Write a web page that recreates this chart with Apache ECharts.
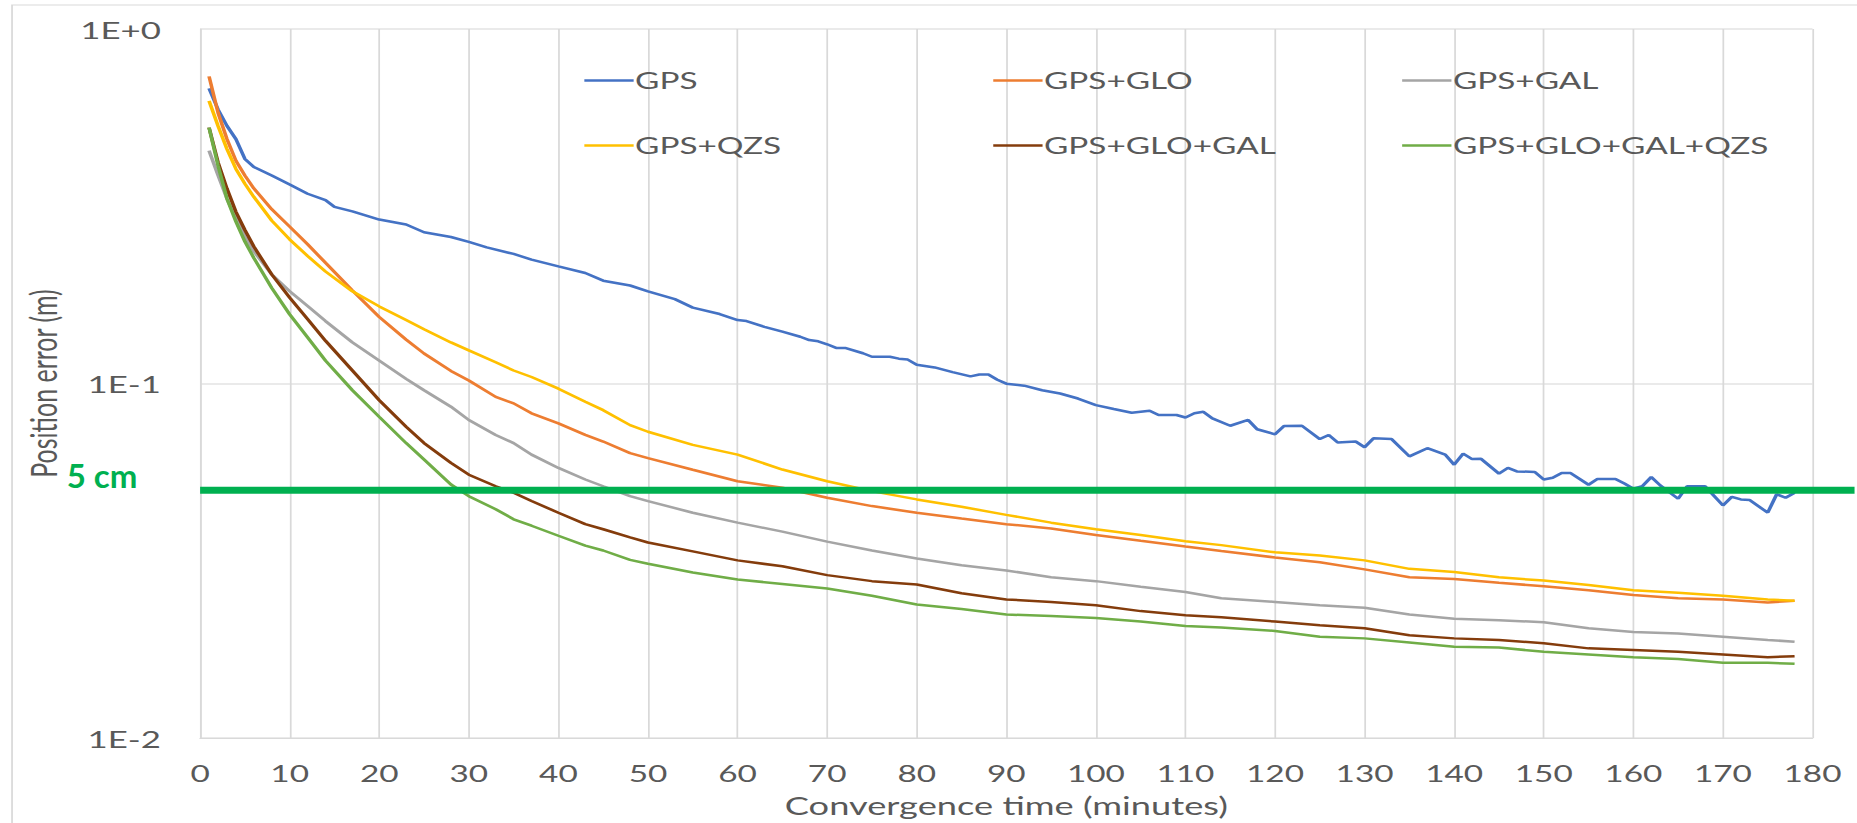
<!DOCTYPE html>
<html>
<head>
<meta charset="utf-8">
<title>Position error vs convergence time</title>
<script src="https://cdn.jsdelivr.net/npm/echarts@6/dist/echarts.min.js"></script>
<style>
  html, body { margin: 0; padding: 0; background: #fff; overflow: hidden; }
  /* the source figure is stretched sideways, so the whole chart is too */
  #chart { width: 1281px; height: 823px; transform: scaleX(1.45); transform-origin: 0 0; }
</style>
</head>
<body>
<div id="chart"></div>
<script>
// ---- data (position error in metres, time in minutes) ----
const gpsTimes = [1,2,3,4,5,6,8,10,12,14,15,17,20,23,25,28,30,32,35,37,40,43,45,48,50,53,55,58,60,61,63,65,67,68,69,70,71,72,74,75,77,78,79,80,82,84,86,87,88,89,90,92,94,96,98,100,102,104,106,107,109,110,111,112,113,115,117,118,120,121,123,125,126,127,129,130,131,133,135,137,139,140,141,142,143,145,146,147,149,150,151,152,153,155,156,158,159,160,161,162,163,165,166,168,170,171,172,173,175,176,177,178]
const gpsError = [0.68,0.593,0.533,0.489,0.430,0.408,0.386,0.364,0.343,0.329,0.315,0.306,0.290,0.281,0.267,0.259,0.251,0.242,0.232,0.2235,0.214,0.205,0.195,0.189,0.182,0.173,0.1637,0.157,0.151,0.150,0.1445,0.140,0.1355,0.1326,0.1315,0.129,0.126,0.126,0.1217,0.119,0.119,0.1175,0.1168,0.113,0.111,0.1077,0.1047,0.106,0.106,0.1025,0.0999,0.0986,0.0957,0.0937,0.0907,0.0869,0.0847,0.0827,0.0838,0.0815,0.0815,0.0802,0.0824,0.0832,0.0797,0.0760,0.0789,0.0743,0.0719,0.0759,0.0760,0.0697,0.0716,0.0682,0.0686,0.0661,0.0701,0.0697,0.0623,0.0657,0.0630,0.0590,0.0634,0.0612,0.0613,0.0557,0.0578,0.0565,0.0563,0.0536,0.0542,0.0559,0.0559,0.0518,0.0538,0.0538,0.0522,0.0505,0.0513,0.0545,0.0516,0.0473,0.0513,0.0513,0.0453,0.0479,0.0471,0.0469,0.0432,0.0487,0.0476,0.0492]

const times = [1,2,3,4,5,6,8,10,12,14,17,20,23,25,28,30,33,35,37,40,43,45,48,50,55,60,65,70,75,80,85,90,95,100,105,110,114,120,125,130,135,140,145,150,155,160,165,170,175,178]
const gpsGlo = [0.735,0.581,0.489,0.425,0.386,0.355,0.310,0.277,0.247,0.219,0.183,0.154,0.133,0.1215,0.1085,0.102,0.0917,0.0879,0.0824,0.0772,0.0716,0.0686,0.0636,0.0616,0.0571,0.053,0.0508,0.0476,0.0451,0.0432,0.0416,0.0401,0.039,0.0374,0.036,0.0347,0.0337,0.0323,0.0313,0.0299,0.0284,0.0281,0.0274,0.0268,0.0261,0.0253,0.0248,0.0246,0.0241,0.0244]
const gpsGal = [0.454,0.387,0.332,0.292,0.260,0.236,0.203,0.182,0.1654,0.150,0.1306,0.116,0.1031,0.0957,0.086,0.0789,0.0716,0.0679,0.063,0.0578,0.0536,0.0513,0.0481,0.0466,0.0432,0.0405,0.0382,0.0358,0.0338,0.0321,0.0307,0.0297,0.0284,0.0277,0.0267,0.0258,0.0248,0.0242,0.0237,0.0233,0.0223,0.0217,0.0215,0.0212,0.0204,0.0199,0.0197,0.0193,0.0189,0.0187]
const gpsQzs = [0.627,0.533,0.4585,0.403,0.366,0.336,0.288,0.255,0.229,0.207,0.182,0.165,0.151,0.1423,0.1306,0.124,0.1148,0.1088,0.1043,0.0967,0.0888,0.0841,0.0763,0.0731,0.0671,0.063,0.0572,0.053,0.0497,0.0471,0.0449,0.0426,0.0405,0.0388,0.0374,0.0359,0.035,0.0334,0.0327,0.0317,0.030,0.0294,0.0284,0.0278,0.027,0.0261,0.0257,0.0252,0.0246,0.0244]
const gpsGloGal = [0.527,0.421,0.3545,0.305,0.271,0.2434,0.203,0.1746,0.1518,0.132,0.1088,0.0897,0.0755,0.0679,0.0597,0.0553,0.0513,0.0492,0.0466,0.0432,0.0401,0.0388,0.0368,0.0356,0.0336,0.0317,0.0305,0.0288,0.0277,0.0271,0.0256,0.0246,0.0242,0.0237,0.0228,0.0222,0.0219,0.0213,0.0208,0.0204,0.0195,0.0191,0.0189,0.0185,0.0179,0.0177,0.0175,0.0172,0.0169,0.017]
const gpsGloGalQzs = [0.527,0.412,0.332,0.286,0.2515,0.226,0.186,0.1567,0.135,0.116,0.0957,0.0805,0.0679,0.061,0.0519,0.0481,0.0442,0.0414,0.0397,0.0372,0.0349,0.0338,0.0318,0.031,0.0293,0.028,0.0272,0.0264,0.0252,0.0238,0.0231,0.0223,0.0221,0.0218,0.0213,0.0207,0.0205,0.02005,0.0193,0.0191,0.0186,0.0181,0.018,0.0175,0.0172,0.0169,0.0167,0.0163,0.0163,0.0162]

const yTickValues = [0.01, 0.1, 1]
const yTickText = ['1E-2', '1E-1', '1E+0']
const threshold = 0.05
const thresholdText = '5 cm'

// ---- layout ----
const STRETCH = 1.45
const W = 1281
const textColor = '#595959'
const font = 'Lato'

const pairs = (xs, ys) => xs.map((x, i) => [x, ys[i]])

const seriesDefs = [
  { name: 'GPS', color: '#4472C4', data: pairs(gpsTimes, gpsError) },
  { name: 'GPS+GLO', color: '#ED7D31', data: pairs(times, gpsGlo) },
  { name: 'GPS+GAL', color: '#A5A5A5', data: pairs(times, gpsGal) },
  { name: 'GPS+QZS', color: '#FFC000', data: pairs(times, gpsQzs) },
  { name: 'GPS+GLO+GAL', color: '#843C0C', data: pairs(times, gpsGloGal) },
  { name: 'GPS+GLO+GAL+QZS', color: '#70AD47', data: pairs(times, gpsGloGalQzs) }
]

const legendColumn = (names, left) => ({
  data: names,
  orient: 'vertical',
  left: left,
  top: 64,
  itemGap: 42,
  icon: 'rect',
  itemWidth: 34,
  itemHeight: 2.5,
  selectedMode: false,
  textStyle: { fontFamily: font, fontSize: 23, color: textColor, padding: [0, 0, 0, -4] }
})

const chart = echarts.init(document.getElementById('chart'), null, { renderer: 'svg' })

chart.setOption({
  animation: false,
  backgroundColor: '#fff',
  grid: { left: 138, right: 31, top: 29, bottom: 80 },
  legend: [
    legendColumn(['GPS', 'GPS+QZS'], 398),
    legendColumn(['GPS+GLO', 'GPS+GLO+GAL'], 680),
    legendColumn(['GPS+GAL', 'GPS+GLO+GAL+QZS'], 962)
  ],
  xAxis: {
    type: 'value',
    min: 0,
    max: 180,
    interval: 10,
    name: 'Convergence time (minutes)',
    nameLocation: 'middle',
    nameGap: 55,
    nameTextStyle: { fontFamily: font, fontSize: 25, color: textColor },
    axisLine: { lineStyle: { color: '#D9D9D9', width: 1.2 } },
    axisTick: { show: false },
    axisLabel: { margin: 24, fontFamily: font, fontSize: 23, color: textColor },
    splitLine: { show: true, lineStyle: { color: '#D9D9D9', width: 1.2 } }
  },
  yAxis: {
    type: 'log',
    logBase: 10,
    min: 0.01,
    max: 1,
    name: 'Position error (m)',
    nameLocation: 'middle',
    nameGap: 96,
    nameTextStyle: { fontFamily: font, fontSize: 25, color: textColor },
    axisLine: { show: true, lineStyle: { color: '#D9D9D9', width: 1.2 } },
    axisTick: { show: false },
    axisLabel: {
      margin: 27,
      fontFamily: font,
      fontSize: 24,
      color: textColor,
      formatter: (v) => {
        const i = yTickValues.findIndex(t => Math.abs(Math.log10(t) - Math.log10(v)) < 1e-6)
        return i >= 0 ? yTickText[i] : ''
      }
    },
    splitLine: { show: true, lineStyle: { color: '#E3E3E3', width: 1.5 } }
  },
  series: seriesDefs.map(s => ({
    name: s.name,
    type: 'line',
    data: s.data,
    symbol: 'none',
    color: s.color,
    lineStyle: { color: s.color, width: 2.5 },
    emphasis: { disabled: true }
  }))
})

// 5 cm reference line, runs past the plot to the figure's right edge
const p = chart.convertToPixel({ xAxisIndex: 0, yAxisIndex: 0 }, [0, threshold])
chart.setOption({
  graphic: [
    {
      type: 'rect',
      silent: true,
      shape: { x: 8.3, y: 5, width: 3000, height: 3000 },
      style: { fill: 'none', stroke: '#D9D9D9', lineWidth: 1.2 },
      z: 0
    },
    {
      type: 'line',
      silent: true,
      shape: { x1: p[0], y1: p[1], x2: W - 2, y2: p[1] },
      style: { stroke: '#00B050', lineWidth: 7 },
      z: 100
    },
    {
      type: 'text',
      silent: true,
      x: 46,
      y: p[1] - 15.5,
      scaleX: 1 / STRETCH,
      style: {
        text: thresholdText,
        fill: '#00B050',
        fontFamily: font,
        fontWeight: 'bold',
        fontSize: 33,
        align: 'left',
        verticalAlign: 'middle'
      },
      z: 100
    }
  ]
})
</script>
</body>
</html>
